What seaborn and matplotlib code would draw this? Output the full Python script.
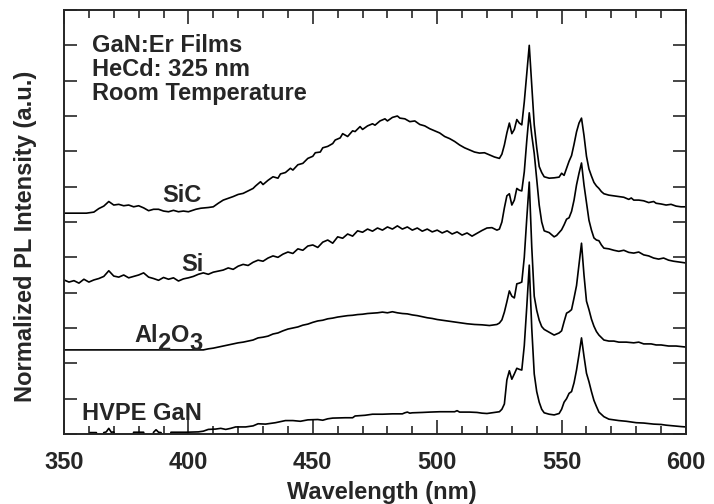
import matplotlib
matplotlib.use("Agg")
import matplotlib.pyplot as plt
from matplotlib.ticker import MultipleLocator, NullFormatter, NullLocator
import pandas as pd
import seaborn as sns

# ---------------- data ----------------
sic_wl = [350, 355, 359, 362, 364, 366, 368, 370, 372, 374, 376, 378, 380, 382, 384, 386, 388, 390,
          392, 394, 396, 398, 400, 403, 405, 408, 410, 412, 414, 416, 418, 420, 422, 424, 426, 427,
          429, 430, 432, 434, 436, 437, 439, 441, 442, 444, 446, 448, 450, 451, 453, 454, 456, 458,
          459, 461, 462, 464, 466, 467, 469, 470, 472, 474, 475, 477, 479, 480, 482, 484, 485, 487,
          489, 491, 493, 495, 497, 499, 501, 503, 505, 507, 509, 511, 513, 515, 517, 519, 521, 523,
          525, 526, 527, 528, 529, 530, 531, 532, 533, 534, 535, 536, 537, 538, 539, 540, 541, 542,
          543, 545, 547, 549, 550, 551, 552, 553, 554, 555, 556, 557, 558, 559, 560, 561, 562, 563,
          564, 565, 566, 567, 569, 571, 573, 575, 577, 578, 579, 581, 583, 585, 587, 588, 590, 592,
          594, 596, 598, 600]
sic_int = [6.25, 6.25, 6.25, 6.28, 6.38, 6.45, 6.58, 6.48, 6.50, 6.46, 6.48, 6.43, 6.46, 6.40, 6.32,
           6.36, 6.36, 6.31, 6.29, 6.33, 6.29, 6.31, 6.29, 6.36, 6.39, 6.41, 6.43, 6.53, 6.62, 6.67,
           6.72, 6.78, 6.81, 6.88, 6.95, 7.02, 7.14, 7.06, 7.18, 7.28, 7.24, 7.36, 7.40, 7.52, 7.47,
           7.62, 7.66, 7.80, 7.86, 7.96, 7.98, 8.10, 8.14, 8.22, 8.32, 8.38, 8.50, 8.42, 8.58, 8.56,
           8.70, 8.62, 8.72, 8.78, 8.74, 8.86, 8.92, 8.86, 8.96, 9.00, 8.94, 8.92, 8.84, 8.86, 8.76,
           8.72, 8.64, 8.58, 8.52, 8.42, 8.36, 8.28, 8.18, 8.10, 8.04, 7.98, 7.95, 7.96, 7.90, 7.84,
           7.80, 7.92, 8.18, 8.52, 8.80, 8.50, 8.62, 8.90, 8.80, 8.75, 9.40, 10.2, 11.0, 9.85, 8.75,
           8.10, 7.57, 7.40, 7.28, 7.24, 7.25, 7.27, 7.38, 7.32, 7.52, 7.72, 7.88, 8.20, 8.55, 8.80,
           8.94, 8.45, 7.86, 7.50, 7.30, 7.12, 7.02, 6.95, 6.86, 6.80, 6.76, 6.74, 6.72, 6.70, 6.64,
           6.68, 6.62, 6.62, 6.60, 6.55, 6.58, 6.53, 6.51, 6.48, 6.50, 6.45, 6.43, 6.43]

si_wl = [350, 352, 354, 356, 358, 360, 362, 364, 366, 368, 370, 372, 374, 376, 378, 380, 382, 384,
         386, 388, 390, 392, 394, 396, 398, 400, 402, 404, 406, 408, 410, 412, 414, 416, 418, 420,
         422, 424, 426, 428, 430, 432, 434, 436, 438, 440, 442, 444, 446, 448, 450, 452, 454, 456,
         458, 460, 462, 464, 466, 468, 470, 472, 474, 476, 478, 480, 482, 484, 486, 488, 490, 492,
         494, 496, 498, 500, 502, 504, 506, 508, 510, 512, 514, 516, 518, 520, 522, 524, 525, 526,
         527, 528, 529, 530, 531, 532, 533, 534, 535, 536, 537, 538, 539, 540, 541, 542, 543, 545,
         547, 548, 549, 550, 551, 552, 553, 554, 555, 556, 557, 558, 559, 560, 561, 562, 563, 564,
         565, 566, 567, 569, 571, 573, 575, 577, 579, 581, 583, 585, 587, 589, 591, 593, 595, 597,
         600]
si_int = [4.36, 4.30, 4.34, 4.27, 4.38, 4.30, 4.36, 4.40, 4.46, 4.62, 4.47, 4.44, 4.50, 4.42, 4.46,
          4.50, 4.56, 4.44, 4.40, 4.35, 4.43, 4.38, 4.42, 4.33, 4.39, 4.42, 4.46, 4.52, 4.56, 4.52,
          4.58, 4.61, 4.64, 4.70, 4.66, 4.75, 4.80, 4.77, 4.86, 4.92, 4.89, 4.98, 5.04, 5.00, 5.09,
          5.15, 5.11, 5.24, 5.20, 5.32, 5.35, 5.28, 5.43, 5.49, 5.40, 5.58, 5.54, 5.66, 5.60, 5.75,
          5.71, 5.80, 5.74, 5.83, 5.77, 5.86, 5.80, 5.89, 5.80, 5.86, 5.77, 5.83, 5.74, 5.80, 5.72,
          5.77, 5.69, 5.75, 5.66, 5.72, 5.63, 5.69, 5.60, 5.68, 5.76, 5.83, 5.84, 5.77, 5.80, 6.00,
          6.40, 6.74, 6.80, 6.48, 6.62, 6.95, 6.90, 6.88, 7.42, 8.30, 9.09, 8.46, 7.94, 7.20, 6.48,
          6.00, 5.75, 5.70, 5.58, 5.62, 5.70, 5.78, 5.92, 6.08, 6.12, 6.30, 6.62, 7.05, 7.38, 7.67,
          7.05, 6.55, 6.05, 5.77, 5.55, 5.49, 5.47, 5.35, 5.26, 5.24, 5.20, 5.17, 5.20, 5.14, 5.12,
          5.15, 5.07, 5.04, 4.98, 4.95, 4.98, 4.92, 4.89, 4.87, 4.84]

al2o3_wl = [350, 406, 408, 410, 412, 414, 416, 418, 420, 422, 424, 426, 428, 430, 432, 434, 436, 438,
            440, 442, 444, 446, 448, 450, 452, 454, 456, 458, 460, 462, 464, 466, 468, 470, 472, 474,
            476, 478, 480, 482, 484, 486, 488, 490, 492, 494, 496, 498, 500, 503, 506, 509, 512, 515,
            518, 521, 524, 525, 526, 527, 528, 529, 530, 531, 532, 533, 534, 535, 536, 537, 538, 539,
            540, 541, 542, 543, 545, 547, 549, 550, 551, 552, 553, 554, 555, 556, 557, 558, 559, 560,
            561, 562, 563, 564, 565, 567, 569, 571, 573, 576, 579, 581, 583, 586, 588, 590, 593, 596,
            600]
al2o3_int = [2.38, 2.38, 2.41, 2.43, 2.46, 2.49, 2.52, 2.55, 2.58, 2.60, 2.63, 2.66, 2.72, 2.74, 2.77,
             2.83, 2.86, 2.92, 2.97, 3.00, 3.03, 3.08, 3.11, 3.16, 3.20, 3.22, 3.26, 3.28, 3.31, 3.33,
             3.35, 3.36, 3.38, 3.39, 3.41, 3.42, 3.43, 3.45, 3.43, 3.46, 3.43, 3.41, 3.40, 3.37, 3.35,
             3.32, 3.29, 3.27, 3.24, 3.21, 3.18, 3.15, 3.12, 3.10, 3.09, 3.07, 3.10, 3.14, 3.23, 3.45,
             3.74, 4.05, 3.90, 3.85, 4.25, 4.27, 4.30, 5.00, 6.10, 7.13, 5.30, 3.90, 3.50, 3.22, 3.04,
             2.96, 2.88, 2.80, 2.86, 2.92, 3.18, 3.42, 3.46, 3.52, 3.85, 4.20, 4.80, 5.40, 4.50, 3.76,
             3.52, 3.25, 3.05, 2.90, 2.80, 2.66, 2.63, 2.63, 2.60, 2.60, 2.58, 2.60, 2.55, 2.55, 2.52,
             2.52, 2.49, 2.49, 2.46]

hvpe_wl = [350, 360, 360.5, 363, 363.5, 365.5, 366, 367, 368, 369, 370, 370.5, 377.5, 378, 382, 382.5,
           385.5, 386, 387, 388, 389, 389.5, 392.5, 393, 399, 404, 406, 408, 411, 413, 415, 417, 419,
           423, 426, 428, 431, 433, 435, 437, 439, 442, 445, 448, 452, 454, 456, 458, 463, 466, 467,
           471, 474, 478, 482, 486, 487, 488, 489, 490, 494, 497, 501, 504, 507, 508, 509, 513, 516,
           518, 520, 522, 524, 525, 526, 527, 528, 529, 530, 531, 532, 533, 534, 535, 536, 537, 538,
           539, 540, 541, 542, 543, 545, 547, 549, 550, 551, 552, 553, 554, 555, 556, 557, 558, 559,
           560, 561, 562, 563, 564, 565, 567, 569, 571, 573, 576, 580, 583, 587, 590, 592, 595, 598,
           600]
hvpe_int = [-0.1, -0.1, 0.04, 0.04, -0.1, -0.1, 0.04, 0.06, 0.16, 0.05, 0.06, -0.1, -0.1, 0.05, 0.05,
            -0.1, -0.1, 0.05, 0.12, 0.05, 0.04, -0.1, -0.1, 0.05, 0.05, 0.06, 0.08, 0.13, 0.14, 0.16,
            0.13, 0.16, 0.20, 0.20, 0.23, 0.29, 0.28, 0.30, 0.32, 0.35, 0.38, 0.38, 0.36, 0.40, 0.41,
            0.39, 0.43, 0.45, 0.46, 0.46, 0.51, 0.53, 0.56, 0.56, 0.57, 0.57, 0.60, 0.62, 0.59, 0.60,
            0.61, 0.62, 0.63, 0.63, 0.63, 0.66, 0.62, 0.62, 0.61, 0.59, 0.58, 0.60, 0.62, 0.63, 0.70,
            0.85, 1.53, 1.79, 1.55, 1.70, 1.86, 1.83, 1.81, 2.50, 3.60, 4.78, 3.00, 1.70, 1.20, 0.90,
            0.70, 0.60, 0.56, 0.54, 0.58, 0.70, 0.90, 1.00, 1.15, 1.20, 1.45, 1.81, 2.25, 2.72, 2.20,
            1.72, 1.48, 1.20, 0.95, 0.78, 0.62, 0.49, 0.42, 0.40, 0.38, 0.36, 0.32, 0.31, 0.28, 0.27,
            0.25, 0.23, 0.21, 0.20]

series_names = ["SiC", "Si", "Al2O3", "HVPE GaN"]
info_lines = ["GaN:Er Films", "HeCd: 325 nm", "Room Temperature"]
x_label = "Wavelength (nm)"
y_label = "Normalized PL Intensity (a.u.)"

# ---------------- styling ----------------
sns.set_style("ticks")
plt.rcParams['font.family'] = ['Liberation Sans', 'DejaVu Sans']
plt.rcParams['font.weight'] = 'bold'
plt.rcParams['axes.linewidth'] = 1.4

fig = plt.figure(figsize=(7.14, 5.04), dpi=100)
ax = fig.add_axes([64 / 714, 70 / 504, 622 / 714, 424 / 504])

frames = []
for name, wl, it in zip(series_names, [sic_wl, si_wl, al2o3_wl, hvpe_wl],
                        [sic_int, si_int, al2o3_int, hvpe_int]):
    frames.append(pd.DataFrame({"Wavelength": wl, "Intensity": it, "Sample": name}))
df = pd.concat(frames, ignore_index=True)

sns.lineplot(data=df, x="Wavelength", y="Intensity", hue="Sample",
             palette={n: "black" for n in series_names}, estimator=None, sort=False,
             linewidth=1.2, legend=False, ax=ax)

ax.set_xlim(350, 600)
ax.set_ylim(0, 12)
ax.xaxis.set_major_locator(MultipleLocator(50))
ax.xaxis.set_minor_locator(MultipleLocator(10))
ax.yaxis.set_major_locator(MultipleLocator(1))
ax.yaxis.set_minor_locator(NullLocator())
ax.yaxis.set_major_formatter(NullFormatter())

ax.tick_params(axis='x', which='major', direction='in', length=10, width=1.2,
               top=True, bottom=True, labelsize=17, pad=12)
ax.tick_params(axis='x', which='minor', direction='in', length=5.5, width=1.2,
               top=True, bottom=True)
ax.tick_params(axis='y', which='major', direction='in', length=9.5, width=1.2,
               left=True, right=True, labelleft=False)
for lab in ax.get_xticklabels():
    lab.set_fontweight('bold')

ax.set_xlabel(x_label, fontsize=17, fontweight='bold', va='top')
ax.xaxis.set_label_coords(0.511, -0.111)
ax.set_ylabel(y_label, fontsize=17, fontweight='bold')
ax.yaxis.set_label_coords(-0.044, 0.465)

# info text block
for txt, yv in zip(info_lines, [10.82, 10.13, 9.45]):
    ax.text(361.3, yv, txt, fontsize=17, fontweight='bold', ha='left', va='baseline')

# series labels
ax.text(389.3, 6.58, "SiC", fontsize=17, fontweight='bold', ha='left', va='baseline')
ax.text(397.3, 4.62, "Si", fontsize=17, fontweight='bold', ha='left', va='baseline')
ax.text(357.1, 0.40, "HVPE GaN", fontsize=17, fontweight='bold', ha='left', va='baseline')

fig.canvas.draw()
renderer = fig.canvas.get_renderer()
off = 0.0
for s, dy in [("Al", 0.0), ("2", -5.8), ("O", 0.0), ("3", -5.8)]:
    t = ax.annotate(s, xy=(378.1, 2.61), xycoords='data', xytext=(off, dy),
                    textcoords='offset points', ha='left', va='baseline',
                    fontsize=17, fontweight='bold')
    bb = t.get_window_extent(renderer)
    off += bb.width * 72.0 / fig.dpi

fig.savefig("out.png", dpi=100)
